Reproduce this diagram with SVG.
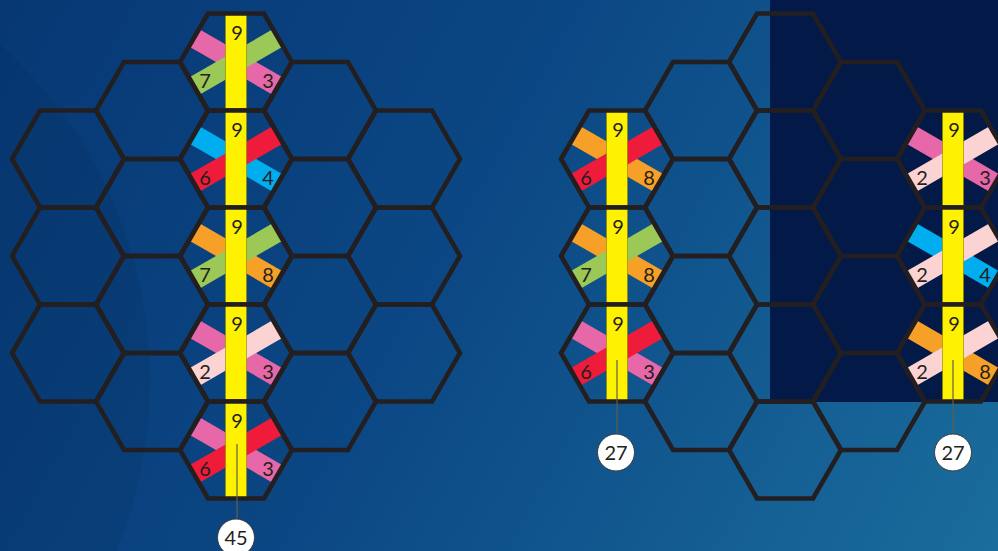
<svg xmlns="http://www.w3.org/2000/svg" xmlns:xlink="http://www.w3.org/1999/xlink" width="998" height="551" viewBox="0 0 998 551">
  <style>
    .hx { fill: none; stroke: #231f20; stroke-width: 4.6; stroke-linejoin: miter; }
    .bar { fill: #fff200; stroke: #8c8200; stroke-width: 0.6; }
    .d { font-family: Lato, "Open Sans", "Liberation Sans", sans-serif; font-size: 20px; fill: #231f20; text-anchor: middle; }
    .ct { font-family: Lato, "Open Sans", "Liberation Sans", sans-serif; font-size: 20px; fill: #231f20; text-anchor: middle; }
    .circ { fill: #ffffff; stroke: #3a3a3a; stroke-width: 1; }
    .lead { stroke: #5e5e50; stroke-width: 1.2; fill: none; }
    .pink { fill: #e668a8; }
    .lpink { fill: #fbd3d2; }
    .green { fill: #9bc856; }
    .blue { fill: #00adee; }
    .red { fill: #ee1c3a; }
    .orange { fill: #f7a027; }
  </style>
  <defs>
    <linearGradient id="bg" x1="0" y1="0" x2="998" y2="551" gradientUnits="userSpaceOnUse">
      <stop offset="0" stop-color="#073874"/>
      <stop offset="0.45" stop-color="#0b4784"/>
      <stop offset="1" stop-color="#1a6d9d"/>
    </linearGradient>
    <path id="hex" d="M-56,0 L-28,-48.5 L28,-48.5 L56,0 L28,48.5 L-28,48.5 Z"/>
    <rect id="bandA" x="-47" y="-10" width="94" height="20" transform="rotate(30)"/>
    <rect id="bandB" x="-47" y="-10" width="94" height="20" transform="rotate(-30)"/>
    <rect id="ybar" class="bar" x="-10.5" y="-48.5" width="21" height="97"/>
  </defs>

  <!-- background -->
  <rect x="0" y="0" width="998" height="551" fill="url(#bg)"/>
  <circle cx="-300" cy="380" r="450" fill="#000000" fill-opacity="0.05"/>
  <rect x="770" y="0" width="228" height="402" fill="#031a48"/>

  <!-- plain hexagon grid -->
  <g id="grid" class="hx">
    <use href="#hex" x="68" y="159"/>
    <use href="#hex" x="68" y="256"/>
    <use href="#hex" x="68" y="353"/>
    <use href="#hex" x="152" y="110.5"/>
    <use href="#hex" x="152" y="207.5"/>
    <use href="#hex" x="152" y="304.5"/>
    <use href="#hex" x="152" y="401.5"/>
    <use href="#hex" x="320" y="110.5"/>
    <use href="#hex" x="320" y="207.5"/>
    <use href="#hex" x="320" y="304.5"/>
    <use href="#hex" x="320" y="401.5"/>
    <use href="#hex" x="404" y="159"/>
    <use href="#hex" x="404" y="256"/>
    <use href="#hex" x="404" y="353"/>

    <use href="#hex" x="701" y="110.5"/>
    <use href="#hex" x="701" y="207.5"/>
    <use href="#hex" x="701" y="304.5"/>
    <use href="#hex" x="701" y="401.5"/>
    <use href="#hex" x="785" y="62"/>
    <use href="#hex" x="785" y="159"/>
    <use href="#hex" x="785" y="256"/>
    <use href="#hex" x="785" y="353"/>
    <use href="#hex" x="785" y="450"/>
    <use href="#hex" x="869" y="110.5"/>
    <use href="#hex" x="869" y="207.5"/>
    <use href="#hex" x="869" y="304.5"/>
    <use href="#hex" x="869" y="401.5"/>
  </g>

  <!-- left cluster markers -->
  <g id="L1" transform="translate(236,62)">
    <use href="#bandA" class="pink"/><use href="#bandB" class="green"/><use href="#ybar"/>
    <use href="#hex" class="hx"/>
    <text class="d" x="1" y="-22">9</text><text class="d" x="-31" y="26">7</text><text class="d" x="32" y="26">3</text>
  </g>
  <g id="L2" transform="translate(236,159)">
    <use href="#bandA" class="blue"/><use href="#bandB" class="red"/><use href="#ybar"/>
    <use href="#hex" class="hx"/>
    <text class="d" x="1" y="-22">9</text><text class="d" x="-31" y="26">6</text><text class="d" x="32" y="26">4</text>
  </g>
  <g id="L3" transform="translate(236,256)">
    <use href="#bandA" class="orange"/><use href="#bandB" class="green"/><use href="#ybar"/>
    <use href="#hex" class="hx"/>
    <text class="d" x="1" y="-22">9</text><text class="d" x="-31" y="26">7</text><text class="d" x="32" y="26">8</text>
  </g>
  <g id="L4" transform="translate(236,353)">
    <use href="#bandA" class="pink"/><use href="#bandB" class="lpink"/><use href="#ybar"/>
    <use href="#hex" class="hx"/>
    <text class="d" x="1" y="-22">9</text><text class="d" x="-31" y="26">2</text><text class="d" x="32" y="26">3</text>
  </g>
  <g id="L5" transform="translate(236,450)">
    <use href="#bandA" class="pink"/><use href="#bandB" class="red"/><use href="#ybar"/>
    <use href="#hex" class="hx"/>
    <text class="d" x="1" y="-22">9</text><text class="d" x="-31" y="26">6</text><text class="d" x="32" y="26">3</text>
  </g>

  <!-- right cluster, left column markers -->
  <g id="R1" transform="translate(617,159)">
    <use href="#bandA" class="orange"/><use href="#bandB" class="red"/><use href="#ybar"/>
    <use href="#hex" class="hx"/>
    <text class="d" x="1" y="-22">9</text><text class="d" x="-31" y="26">6</text><text class="d" x="32" y="26">8</text>
  </g>
  <g id="R2" transform="translate(617,256)">
    <use href="#bandA" class="orange"/><use href="#bandB" class="green"/><use href="#ybar"/>
    <use href="#hex" class="hx"/>
    <text class="d" x="1" y="-22">9</text><text class="d" x="-31" y="26">7</text><text class="d" x="32" y="26">8</text>
  </g>
  <g id="R3" transform="translate(617,353)">
    <use href="#bandA" class="pink"/><use href="#bandB" class="red"/><use href="#ybar"/>
    <use href="#hex" class="hx"/>
    <text class="d" x="1" y="-22">9</text><text class="d" x="-31" y="26">6</text><text class="d" x="32" y="26">3</text>
  </g>

  <!-- right cluster, right column markers -->
  <g id="S1" transform="translate(953,159)">
    <use href="#bandA" class="pink"/><use href="#bandB" class="lpink"/><use href="#ybar"/>
    <use href="#hex" class="hx"/>
    <text class="d" x="1" y="-22">9</text><text class="d" x="-31" y="26">2</text><text class="d" x="32" y="26">3</text>
  </g>
  <g id="S2" transform="translate(953,256)">
    <use href="#bandA" class="blue"/><use href="#bandB" class="lpink"/><use href="#ybar"/>
    <use href="#hex" class="hx"/>
    <text class="d" x="1" y="-22">9</text><text class="d" x="-31" y="26">2</text><text class="d" x="32" y="26">4</text>
  </g>
  <g id="S3" transform="translate(953,353)">
    <use href="#bandA" class="orange"/><use href="#bandB" class="lpink"/><use href="#ybar"/>
    <use href="#hex" class="hx"/>
    <text class="d" x="1" y="-22">9</text><text class="d" x="-31" y="26">2</text><text class="d" x="32" y="26">8</text>
  </g>

  <!-- connectors -->
  <g id="connectors" class="lead">
    <line x1="237" y1="444" x2="237" y2="519"/>
    <line x1="617" y1="360" x2="617" y2="434"/>
    <line x1="953" y1="360" x2="953" y2="434"/>
  </g>

  <!-- totals -->
  <g id="total-left">
    <circle class="circ" cx="236" cy="537.5" r="18.5"/>
    <text class="ct" x="236" y="544.5">45</text>
  </g>
  <g id="total-right-a">
    <circle class="circ" cx="616" cy="452.5" r="18.5"/>
    <text class="ct" x="616" y="459.5">27</text>
  </g>
  <g id="total-right-b">
    <circle class="circ" cx="953" cy="452.5" r="18.5"/>
    <text class="ct" x="953" y="459.5">27</text>
  </g>
</svg>
